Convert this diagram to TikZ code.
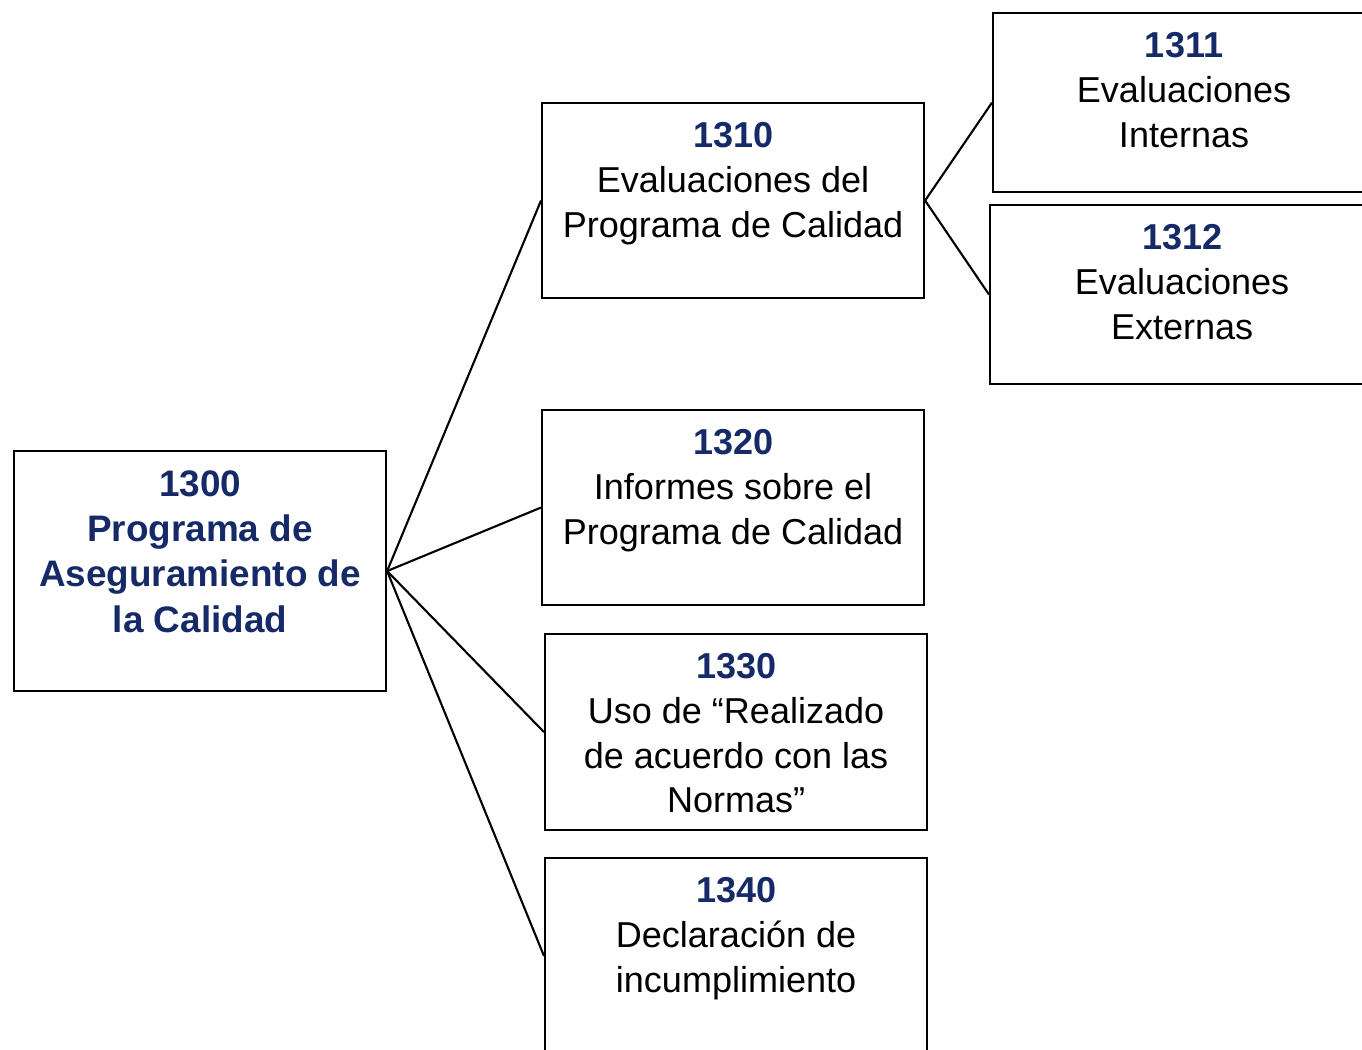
\documentclass[tikz,border=0pt]{standalone}
\usepackage{fontspec}
\setmainfont{Liberation Sans}
\usepackage{tikz}
\usetikzlibrary{positioning}
\definecolor{navy}{RGB}{22,42,104}

\begin{document}
\begin{tikzpicture}[x=0.02cm,y=-0.02cm,
  box/.style 2 args={draw,line width=1.2pt,rectangle,inner sep=0pt,anchor=north west,
    minimum width=#1*0.02cm,minimum height=#2*0.02cm},
  lbl/.style={inner sep=0pt,align=center,font=\fontsize{20.5}{25.5}\selectfont},
  num/.style={text=navy,font=\bfseries}]
\useasboundingbox (0,0) rectangle (1362,1050);
\clip (0,0) rectangle (1362,1050);
% boxes
\node[box={372}{240}] (b1300) at (13,450) {};
\node[box={382}{195}] (b1310) at (541,102) {};
\node[box={382}{195}] (b1320) at (541,409) {};
\node[box={382}{196}] (b1330) at (544,633) {};
\node[box={382}{196}] (b1340) at (544,857) {};
\node[box={382}{179}] (b1311) at (992,12) {};
\node[box={384}{179}] (b1312) at (989,204) {};
% texts
\node[lbl,text=navy,font=\bfseries\fontsize{21}{25.8}\selectfont,below=11.4pt of b1300.north] (t1300)
  {1300\\Programa de\\Aseguramiento de\\la Calidad};
\node[lbl,below=11.4pt of b1310.north] (t1310)
  {{\color{navy}\bfseries 1310}\\Evaluaciones del\\Programa de Calidad};
\node[lbl,below=11.4pt of b1320.north] (t1320)
  {{\color{navy}\bfseries 1320}\\Informes sobre el\\Programa de Calidad};
\node[lbl,below=11.4pt of b1330.north] (t1330)
  {{\color{navy}\bfseries 1330}\\Uso de “Realizado\\de acuerdo con las\\Normas”};
\node[lbl,below=11.4pt of b1340.north] (t1340)
  {{\color{navy}\bfseries 1340}\\Declaración de\\incumplimiento};
\node[lbl,below=11.4pt of b1311.north] (t1311)
  {{\color{navy}\bfseries 1311}\\Evaluaciones\\Internas};
\node[lbl,below=11.4pt of b1312.north] (t1312)
  {{\color{navy}\bfseries 1312}\\Evaluaciones\\Externas};
% connectors
\foreach \n in {b1310,b1320,b1330,b1340}
  \draw[line width=1.2pt] (b1300.east) -- (\n.west);
\foreach \n in {b1311,b1312}
  \draw[line width=1.2pt] (b1310.east) -- (\n.west);
\end{tikzpicture}
\end{document}
